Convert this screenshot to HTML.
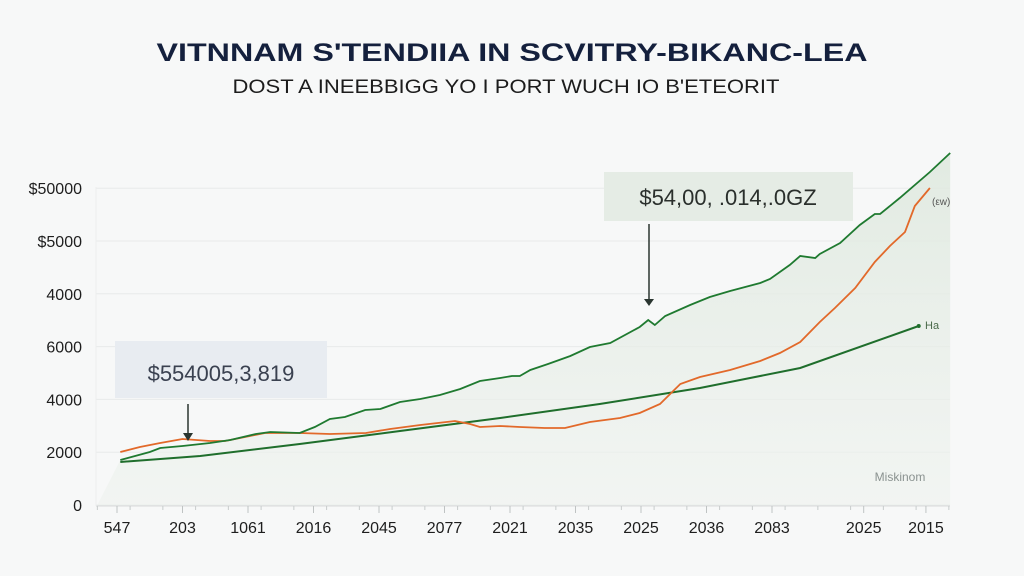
<!DOCTYPE html>
<html><head><meta charset="utf-8"><style>
html,body{margin:0;padding:0;background:#f7f8f8;}
svg{display:block;font-family:"Liberation Sans",sans-serif;}
</style></head><body>
<svg id="chart" width="1024" height="576" viewBox="0 0 1024 576">
<defs>
<linearGradient id="fillg" x1="0" y1="0" x2="0" y2="1">
<stop offset="0" stop-color="#dfe9df" stop-opacity="0.9"/>
<stop offset="1" stop-color="#eef2ee" stop-opacity="0.6"/>
</linearGradient>
</defs>
<rect width="1024" height="576" fill="#f7f8f8"/>
<text x="512" y="61" text-anchor="middle" font-size="25" font-weight="bold" fill="#14203d" textLength="711" lengthAdjust="spacingAndGlyphs">VITNNAM S'TENDIIA IN SCVITRY-BIKANC-LEA</text>
<text x="506" y="93" text-anchor="middle" font-size="19" fill="#1c1c1c" textLength="547" lengthAdjust="spacingAndGlyphs">DOST A INEEBBIGG YO I PORT WUCH IO B'ETEORIT</text>
<g id="grid"></g>
<g id="area"></g>
<g id="lines"></g>
<g id="axes"></g>
<g id="annot">
<rect x="115" y="341" width="212" height="57" fill="#e8ecf1"/>
<text x="221" y="381" text-anchor="middle" font-size="22" fill="#3a4150">$554005,3,819</text>
<line x1="188" y1="404" x2="188" y2="434" stroke="#2a3530" stroke-width="1.5"/>
<path d="M183,433 L193,433 L188,441 Z" fill="#2a3530"/>
<rect x="604" y="172" width="249" height="49" fill="#e5ece5"/>
<text x="728" y="205" text-anchor="middle" font-size="22" fill="#2a2f2c">$54,00, .014,.0GZ</text>
<line x1="649" y1="224" x2="649" y2="300" stroke="#2a3530" stroke-width="1.5"/>
<path d="M644,299 L654,299 L649,306 Z" fill="#2a3530"/>
<text x="932" y="205" font-size="10" fill="#555">(εw)</text>
<text x="925" y="329" font-size="11" fill="#4a6a4a">Ha</text>
<text x="900" y="481" text-anchor="middle" font-size="12" fill="#8a9290">Miskinom</text>
</g>
</svg>
<script>
const yTickValues = [0,1000,2000,3000,4000,5000,6000];
const yTickLabels = ["0","2000","4000","6000","4000","$5000","$50000"];
const xTickValues = [0,1,2,3,4,5,6,7,8,9,10,11.4,12.35];
const xTickLabels = ["547","203","1061","2016","2045","2077","2021","2035","2025","2036","2083","2025","2015"];
const greenX = [0.05,0.5,0.66,1.0,1.42,1.73,2.12,2.34,2.79,3.02,3.25,3.48,3.79,4.02,4.32,4.63,4.93,5.24,5.54,5.85,6.03,6.15,6.31,6.58,6.92,7.22,7.53,7.98,8.11,8.21,8.37,8.75,9.05,9.36,9.82,9.97,10.27,10.43,10.66,10.73,11.04,11.34,11.57,11.65,11.95,12.41,12.72];
const greenY = [852,1004,1080,1117,1174,1231,1345,1383,1364,1477,1629,1667,1799,1818,1951,2008,2083,2197,2349,2405,2443,2443,2557,2670,2822,2993,3068,3371,3504,3409,3580,3788,3940,4053,4205,4280,4546,4716,4678,4754,4962,5303,5512,5512,5815,6307,6667];
const orangeX = [0.05,0.35,0.66,1.0,1.42,1.65,2.03,2.26,2.79,3.25,3.8,4.17,4.63,5.16,5.39,5.54,5.85,6.15,6.53,6.84,7.22,7.68,7.98,8.29,8.6,8.9,9.36,9.82,10.12,10.43,10.73,10.96,11.27,11.57,11.8,12.03,12.18,12.41];
const orangeY = [1004,1098,1174,1250,1212,1212,1307,1364,1364,1345,1364,1439,1515,1591,1534,1477,1496,1477,1458,1458,1572,1648,1742,1913,2292,2424,2557,2727,2879,3087,3466,3731,4110,4602,4905,5171,5663,6004];
const trendX = [0.05,1.27,2.79,4.32,5.85,7.37,8.9,10.43,12.24];
const trendY = [814,928,1155,1402,1648,1913,2216,2595,3390];

const X0=117, XS=65.5, Y0=505, YS=52.8/1000;
function sx(v){return X0+v*XS;}
function sy(v){return Y0-v*YS;}
const NS="http://www.w3.org/2000/svg";
function mk(tag,attrs,parent){const e=document.createElementNS(NS,tag);for(const k in attrs)e.setAttribute(k,attrs[k]);parent.appendChild(e);return e;}
const grid=document.getElementById('grid'),axes=document.getElementById('axes'),area=document.getElementById('area'),lines=document.getElementById('lines');
yTickValues.forEach((v,i)=>{
  const g=mk('line',{x1:96,x2:950,y1:sy(v),y2:sy(v),stroke:'#e8eaea','stroke-width':1},grid);
  
  
  const t=mk('text',{x:82,y:sy(v)+6,'text-anchor':'end','font-size':16,fill:'#1e1e1e'},axes);
  t.textContent=yTickLabels[i];
  
  
});
const ax=mk('line',{x1:96,x2:950,y1:Y0+1,y2:Y0+1,stroke:'#d8dada','stroke-width':1},axes);


const ay=mk('line',{x1:96,x2:96,y1:187,y2:Y0+1,stroke:'#eceeee','stroke-width':1},axes);


for(let v=-0.3;v<=12.75;v+=0.5){
  const tk=mk('line',{x1:sx(v),x2:sx(v),y1:Y0+1,y2:Y0+5,stroke:'#c8cccc'},axes);
  
  
}
xTickValues.forEach((v,i)=>{
  const tk=mk('line',{x1:sx(v),x2:sx(v),y1:Y0+1,y2:Y0+8,stroke:'#bfc3c3'},axes);
  
  
  const t=mk('text',{x:sx(v),y:533,'text-anchor':'middle','font-size':16,fill:'#1e1e1e'},axes);
  t.textContent=xTickLabels[i];
  
  
});
function pts(xs,ys){return xs.map((x,i)=>sx(x).toFixed(1)+','+sy(ys[i]).toFixed(1));}
const ap='M'+sx(-0.3)+','+Y0+' L'+pts(greenX,greenY).join(' L')+' L'+sx(greenX[greenX.length-1])+','+Y0+' Z';
const ar=mk('path',{d:ap,fill:'url(#fillg)'},area);


const lt=mk('polyline',{points:pts(trendX,trendY).join(' '),fill:'none',stroke:'#1f6e2c','stroke-width':2},lines);


const lo=mk('polyline',{points:pts(orangeX,orangeY).join(' '),fill:'none',stroke:'#e2692a','stroke-width':1.8},lines);


const lg=mk('polyline',{points:pts(greenX,greenY).join(' '),fill:'none',stroke:'#1f7a30','stroke-width':1.8},lines);


const dot=mk('circle',{cx:sx(trendX[trendX.length-1]),cy:sy(trendY[trendY.length-1]),r:2,fill:'#1f6e2c'},lines);


</script>
</body></html>
